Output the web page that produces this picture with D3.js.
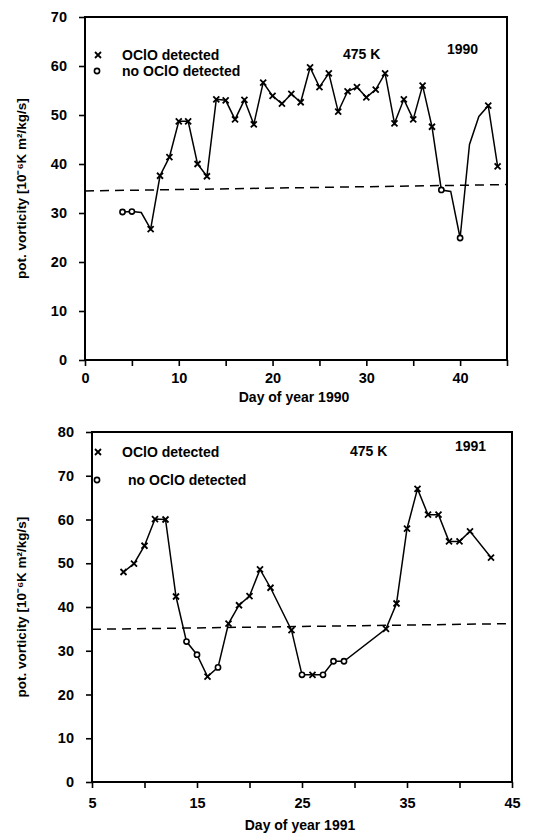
<!DOCTYPE html>
<html>
<head>
<meta charset="utf-8">
<script src="https://cdn.jsdelivr.net/npm/d3@7"></script>
<style>
body { margin: 0; background: #fff; }
text { font-family: "Liberation Sans", Arial, sans-serif; font-weight: bold; fill: #000; }
</style>
</head>
<body>
<svg width="538" height="838"></svg>
<script>
// ---- 1990 panel data ----
const days1990 = [4, 5, 6, 7, 8, 9, 10, 11, 12, 13, 14, 15, 16, 17, 18, 19, 20, 21, 22, 23, 24,
    25, 26, 27, 28, 29, 30, 31, 32, 33, 34, 35, 36, 37, 38, 39, 40, 41, 42, 43, 44];
const pv1990 = [30.2, 30.3, 30.1, 26.7, 37.6, 41.4, 48.7, 48.7, 40.0, 37.5, 53.2, 53.0, 49.1, 53.1, 48.1, 56.6, 53.9, 52.3, 54.3, 52.6, 59.7,
    55.7, 58.5, 50.7, 54.8, 55.7, 53.6, 55.2, 58.5, 48.3, 53.2, 49.1, 56.0, 47.6, 34.7, 34.4, 24.9, 44.0, 49.7, 51.9, 39.5];
// x = OClO detected, o = no OClO detected, "" = no marker
const mark1990 = ["o", "o", "", "x", "x", "x", "x", "x", "x", "x", "x", "x", "x", "x", "x", "x", "x", "x", "x", "x", "x",
    "x", "x", "x", "x", "x", "x", "x", "x", "x", "x", "x", "x", "x", "o", "", "o", "", "", "x", "x"];
const xTicks1990 = [0, 5, 10, 15, 20, 25, 30, 35, 40, 45];
const xLabels1990 = [0, 10, 20, 30, 40];
const yTicks1990 = [0, 10, 20, 30, 40, 50, 60, 70];
const limit1990 = [34.5, 35.8];   // dashed line, value at left and right end

// ---- 1991 panel data ----
const days1991 = [8, 9, 10, 11, 12, 13, 14, 15, 16, 17, 18, 19, 20, 21, 22, 24, 25, 26, 27, 28, 29,
    33, 34, 35, 36, 37, 38, 39, 40, 41, 43];
const pv1991 = [48.0, 49.9, 54.0, 60.1, 60.0, 42.4, 32.1, 29.1, 24.1, 26.2, 36.2, 40.4, 42.5, 48.6, 44.4, 34.7, 24.5, 24.5, 24.5, 27.6, 27.6,
    35.0, 40.8, 57.9, 67.0, 61.1, 61.1, 55.0, 55.0, 57.3, 51.3];
const mark1991 = ["x", "x", "x", "x", "x", "x", "o", "o", "x", "o", "x", "x", "x", "x", "x", "x", "o", "x", "o", "o", "o",
    "x", "x", "x", "x", "x", "x", "x", "x", "x", "x"];
const xTicks1991 = [5, 10, 15, 20, 25, 30, 35, 40, 45];
const xLabels1991 = [5, 15, 25, 35, 45];
const yTicks1991 = [0, 10, 20, 30, 40, 50, 60, 70, 80];
const limit1991 = [34.9, 36.2];

const legendText = ["OClO detected", "no OClO detected"];

let svg = d3.select("svg");

function drawMarker(g, type, x, y) {
    if (type === "x") {
        g.append("path")
            .attr("d", `M${x - 3},${y - 3}L${x + 3},${y + 3}M${x - 3},${y + 3}L${x + 3},${y - 3}`)
            .attr("stroke", "#000").attr("stroke-width", 1.8).attr("fill", "none");
    } else if (type === "o") {
        g.append("circle")
            .attr("cx", x).attr("cy", y).attr("r", 2.6)
            .attr("fill", "#fff").attr("stroke", "#000").attr("stroke-width", 1.6);
    }
}

function panel(p) {
    const g = svg.append("g");
    const x = d3.scaleLinear().domain(p.xDomain).range([p.left, p.right]);
    const y = d3.scaleLinear().domain(p.yDomain).range([p.bottom, p.top]);

    // dashed threshold line
    g.append("line")
        .attr("x1", x(p.xDomain[0])).attr("x2", x(p.xDomain[1]))
        .attr("y1", y(p.limit[0])).attr("y2", y(p.limit[1]))
        .attr("stroke", "#000").attr("stroke-width", 1.5)
        .attr("stroke-dasharray", "9,6");

    // data line
    const line = d3.line().x(d => x(d[0])).y(d => y(d[1]));
    g.append("path")
        .datum(p.days.map((d, i) => [d, p.pv[i]]))
        .attr("d", line)
        .attr("fill", "none").attr("stroke", "#000").attr("stroke-width", 1.5);

    p.days.forEach((d, i) => drawMarker(g, p.marks[i], x(d), y(p.pv[i])));

    // frame
    g.append("rect")
        .attr("x", p.left).attr("y", p.top)
        .attr("width", p.right - p.left).attr("height", p.bottom - p.top)
        .attr("fill", "none").attr("stroke", "#000").attr("stroke-width", 2);

    // axes
    const xAxis = d3.axisBottom(x).tickValues(p.xTicks).tickSize(6)
        .tickFormat(d => p.xLabels.includes(d) ? d : "");
    const gx = g.append("g").attr("transform", `translate(0,${p.bottom})`).call(xAxis);
    const yAxis = d3.axisLeft(y).tickValues(p.yTicks).tickSize(6).tickPadding(12);
    const gy = g.append("g").attr("transform", `translate(${p.left},0)`).call(yAxis);
    [gx, gy].forEach(a => {
        a.select(".domain").remove();
        a.selectAll("line").attr("stroke", "#000").attr("stroke-width", 1.6);
        a.selectAll("text").attr("font-size", 14.5)
            .style("font-family", "'Liberation Sans', Arial, sans-serif").style("font-weight", "bold");
    });
    gx.selectAll("text").attr("dy", p.xLabelDy);

    // axis titles
    g.append("text")
        .attr("x", (p.left + p.right) / 2 - 2).attr("y", p.xTitleY)
        .attr("text-anchor", "middle").attr("font-size", 14)
        .text(p.xTitle);
    g.append("text")
        .attr("transform", `translate(26,${(p.top + p.bottom) / 2}) rotate(-90)`)
        .attr("text-anchor", "middle").attr("font-size", 13.5)
        .text("pot. vorticity [10⁻⁶K m²/kg/s]");

    // legend
    drawMarker(g, "x", 98, p.legY[0] - 5);
    drawMarker(g, "o", 97, p.legY[1] - 5);
    g.append("text").attr("x", 122).attr("y", p.legY[0]).attr("font-size", 14).text(legendText[0]);
    g.append("text").attr("x", p.legX2).attr("y", p.legY[1]).attr("font-size", 14).text(legendText[1]);
    g.append("text").attr("x", p.kX).attr("y", p.legY[0] - 1).attr("font-size", 14).text("475 K");
    g.append("text").attr("x", p.yearX).attr("y", p.legY[0] - 6).attr("font-size", 14).text(p.year);
}

panel({
    days: days1990, pv: pv1990, marks: mark1990, limit: limit1990,
    xDomain: [0, 45], yDomain: [0, 70], xTicks: xTicks1990, xLabels: xLabels1990, yTicks: yTicks1990,
    left: 85, right: 507, top: 17, bottom: 360, xLabelDy: "0.95em",
    xTitle: "Day of year 1990", xTitleY: 402,
    legY: [60, 76], legX2: 122, kX: 343, yearX: 447, year: "1990"
});

panel({
    days: days1991, pv: pv1991, marks: mark1991, limit: limit1991,
    xDomain: [5, 45], yDomain: [0, 80], xTicks: xTicks1991, xLabels: xLabels1991, yTicks: yTicks1991,
    left: 92, right: 512, top: 432, bottom: 782, xLabelDy: "1.15em",
    xTitle: "Day of year 1991", xTitleY: 830,
    legY: [457, 485], legX2: 128, kX: 350, yearX: 455, year: "1991"
});
</script>
</body>
</html>
